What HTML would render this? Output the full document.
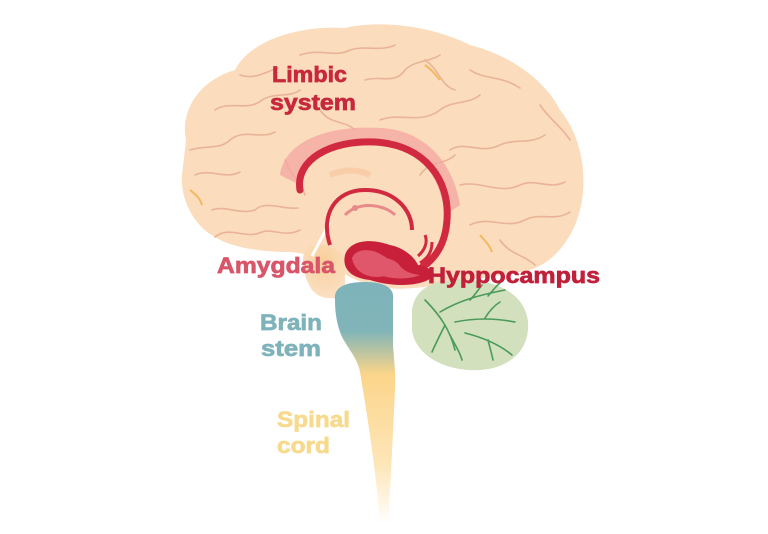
<!DOCTYPE html>
<html><head><style>
html,body{margin:0;padding:0;background:#fff;width:768px;height:534px;overflow:hidden}
svg{display:block}
text{font-family:"Liberation Sans",Arial,sans-serif;font-weight:bold;stroke-width:0.7}
</style></head><body>
<svg width="768" height="534" viewBox="0 0 768 534" xmlns="http://www.w3.org/2000/svg">
<defs>
<linearGradient id="cord" x1="0" y1="0" x2="0" y2="1">
<stop offset="0" stop-color="#7eb3bb"/>
<stop offset="0.2" stop-color="#80b4b8"/>
<stop offset="0.38" stop-color="#fbd58a"/>
<stop offset="0.75" stop-color="#fde6b8"/>
<stop offset="1" stop-color="#ffffff"/>
</linearGradient>
<radialGradient id="temp" cx="0.5" cy="0.3" r="0.7">
<stop offset="0" stop-color="#f9cf9a"/><stop offset="1" stop-color="#fbe0c4"/>
</radialGradient>
</defs>
<path d="M186 140 C180 110 200 80 235 70 C250 40 300 25 345 28 C380 20 430 25 470 45 C510 55 545 80 560 110 C585 140 590 190 575 225 C562 255 540 270 520 272 C500 275 470 280 450 283 C420 288 400 290 390 288 C370 285 350 280 340 270 C325 258 310 254 290 252 C260 252 230 247 215 237 C195 227 180 200 182 175 Z" fill="#fbdcbd"/>
<path d="M305 250 C315 240 340 245 345 260 L345 295 C335 300 320 300 312 290 C305 280 300 262 305 250 Z" fill="url(#temp)"/>
<path d="M330 222 L312 256" stroke="#fff" stroke-width="3"/>
<g fill="none" stroke="#eab397" stroke-width="1.6" stroke-linecap="round">
<path d="M215 237 C230 225 245 240 262 232 C272 228 285 238 300 230"/>
<path d="M212 210 C225 205 240 215 255 210 C265 200 285 210 298 208"/>
<path d="M195 175 C210 168 225 180 240 172"/>
<path d="M190 150 C205 145 220 150 230 140 C245 128 260 140 275 132"/>
<path d="M215 110 C230 100 248 112 262 100 C275 92 290 98 300 90"/>
<path d="M240 75 C255 80 265 72 278 68"/>
<path d="M300 55 C320 48 335 58 350 50 C365 45 380 52 395 45"/>
<path d="M365 80 C380 75 395 85 405 70 C415 60 430 62 440 55"/>
<path d="M380 120 C400 112 420 125 440 110 C452 100 468 105 480 95"/>
<path d="M470 70 C485 80 500 75 520 88"/>
<path d="M450 150 C465 140 480 155 500 145 C515 138 530 145 545 135"/>
<path d="M460 185 C480 180 500 195 520 185 C535 178 550 190 565 182"/>
<path d="M470 225 C490 215 505 230 525 220 C540 212 555 222 570 212"/>
<path d="M420 175 C430 160 445 165 455 155"/>
<path d="M425 60 C440 70 440 85 455 90"/>
<path d="M540 105 C550 120 560 125 570 140"/>
<path d="M320 110 C330 125 345 120 355 130"/>
<path d="M285 160 C290 175 300 180 305 195"/>
<path d="M500 240 C510 255 525 255 535 265"/>
</g>
<g fill="none" stroke="#f3b860" stroke-width="2">
<path d="M425 65 C432 70 436 75 440 80"/><path d="M190 190 C196 195 200 198 202 205"/><path d="M480 235 C486 242 490 246 492 252"/>
</g>
<path d="M280 175 C285 140 330 125 380 128 C430 130 455 170 460 205 L445 215 C440 175 420 148 380 145 C330 143 300 160 300 185 Z" fill="#f4a6a0" opacity="0.75"/>
<path d="M300 190 C295 160 330 140 375 142 C425 145 450 180 447 220 C445 250 430 268 400 278" fill="none" stroke="#d1293f" stroke-width="7" stroke-linecap="round"/>
<path d="M330 175 C345 168 360 170 370 175" fill="none" stroke="#f6c39a" stroke-width="6" opacity="0.6"/>
<path d="M330 245 C320 215 335 190 365 190 C395 190 412 210 412 230" fill="none" stroke="#d1293f" stroke-width="4"/>
<path d="M345 215 C360 200 385 205 395 215" fill="none" stroke="#e88a8a" stroke-width="3"/>
<path d="M425 235 C428 242 425 250 418 256" fill="none" stroke="#d1293f" stroke-width="3"/>
<path d="M432 242 C432 252 428 258 420 263" fill="none" stroke="#d1293f" stroke-width="3"/>
<circle cx="355" cy="208" r="3" fill="#e88a8a"/>
<path d="M345 255 C350 240 370 238 390 245 C405 248 415 258 418 265 C430 268 440 272 428 280 C412 288 385 285 370 280 C350 278 342 268 345 255 Z" fill="#c8203a"/>
<path d="M352 258 C356 248 372 248 382 255 C392 260 398 268 388 275 C375 280 355 276 352 258 Z" fill="#e0566a"/>
<path d="M375 262 C380 255 395 258 400 266 C405 272 412 274 420 275 C410 280 385 280 375 272 Z" fill="#e0566a"/>
<path d="M335 300 C333 285 350 282 365 282 C385 282 395 288 393 300 L393 345 C394 360 396 375 395 390 C393 430 391 480 388 525 L380 525 C376 470 368 420 360 372 C357 356 345 346 340 332 C336 320 335 310 335 300 Z" fill="url(#cord)"/>
<path d="M412 310 C415 285 440 278 470 280 C500 282 525 295 528 322 C530 350 510 368 480 370 C445 372 415 355 412 330 Z" fill="#d2e0bd"/>
<g fill="none" stroke="#4a9a5a" stroke-width="1.6" stroke-linecap="round">
<path d="M425 300 C440 315 450 330 455 350"/>
<path d="M440 312 C460 300 480 295 505 290"/>
<path d="M455 322 C475 318 495 318 515 322"/>
<path d="M465 333 C485 338 500 345 512 355"/>
<path d="M445 325 C440 335 435 345 432 352"/>
<path d="M470 300 C475 295 478 290 482 285"/>
<path d="M488 296 C495 288 498 284 500 283"/>
<path d="M485 318 C490 310 495 305 500 302"/>
<path d="M488 340 C490 348 492 355 493 360"/>
<path d="M450 335 C455 345 460 352 462 360"/>
</g>
<text x="272" y="82" font-size="22" fill="#c8283c" stroke="#c8283c" textLength="75" lengthAdjust="spacingAndGlyphs">Limbic</text>
<text x="270" y="110" font-size="22" fill="#c8283c" stroke="#c8283c" textLength="86" lengthAdjust="spacingAndGlyphs">system</text>
<text x="217" y="273" font-size="22" fill="#d9566a" stroke="#d9566a" textLength="118" lengthAdjust="spacingAndGlyphs">Amygdala</text>
<text x="428" y="283" font-size="22" fill="#c0203a" stroke="#c0203a" textLength="172" lengthAdjust="spacingAndGlyphs">Hyppocampus</text>
<text x="260" y="330" font-size="22" fill="#7fb3bb" stroke="#7fb3bb" textLength="62" lengthAdjust="spacingAndGlyphs">Brain</text>
<text x="261" y="356" font-size="22" fill="#7fb3bb" stroke="#7fb3bb" textLength="60" lengthAdjust="spacingAndGlyphs">stem</text>
<text x="277" y="427" font-size="22" fill="#f8da8e" stroke="#f8da8e" textLength="73" lengthAdjust="spacingAndGlyphs">Spinal</text>
<text x="277" y="453" font-size="22" fill="#f8da8e" stroke="#f8da8e" textLength="53" lengthAdjust="spacingAndGlyphs">cord</text>
</svg>
</body></html>
